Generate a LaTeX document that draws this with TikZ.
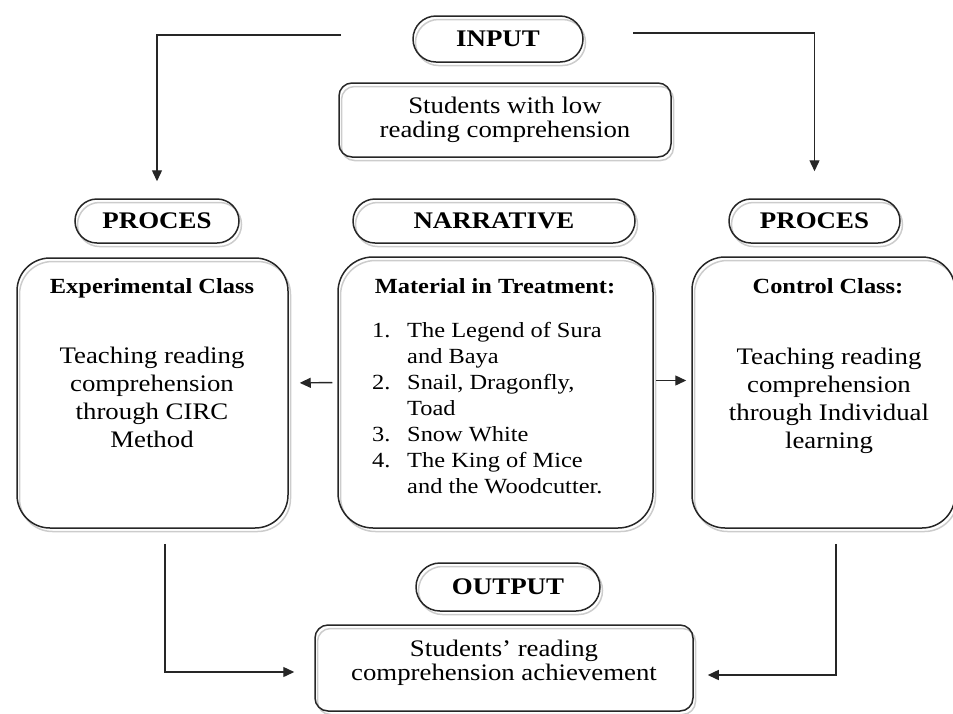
\documentclass[tikz,border=0pt]{standalone}
\usepackage{fontspec}
\setmainfont{Liberation Serif}[FakeStretch=1.13]
\usetikzlibrary{arrows.meta,shapes.misc,shadows,calc}
\newcommand{\mylines}[1]{\begin{tabular}[t]{@{}c@{}}#1\end{tabular}}
\begin{document}
\begin{tikzpicture}[x=1pt,y=-1pt,
  shad/.style={general shadow={draw=black!20, fill=none, line width=1.5pt, shadow xshift=2.5pt, shadow yshift=-3.5pt}},
  box/.style={draw=black!85, line width=1.5pt, rectangle, rounded corners=#1, inner sep=0pt, shad},
  box/.default=13pt,
  pill/.style={draw=black!85, line width=1.5pt, rounded rectangle, inner sep=0pt, shad,
    font=\bfseries\fontsize{23.8}{28}\selectfont},
  body/.style={inner sep=0pt, anchor=base, font=\fontsize{23.7}{28}\selectfont},
  head/.style={inner sep=0pt, anchor=base, font=\bfseries\fontsize{21.6}{26}\selectfont},
  conn/.style={draw=black!85, line width=1.4pt, -{Triangle[length=11pt,width=10pt]}}
]
\useasboundingbox (0,0) rectangle (953,713);

% top
\node[pill, minimum width=170pt, minimum height=46pt] (input) at (498,39) {INPUT};
\node[box, minimum width=332pt, minimum height=74pt, align=center,
  font=\fontsize{23.7}{23.5}\selectfont] (low) at (505,120)
  {Students with low\\reading comprehension};

% pills
\node[pill, minimum width=164pt, minimum height=44pt] (procL) at (157,221) {PROCES};
\node[pill, minimum width=282pt, minimum height=44pt] (narr) at (494,221) {NARRATIVE};
\node[pill, minimum width=171pt, minimum height=44pt] (procR) at (814.5,221) {PROCES};

% big boxes
\node[box=33pt, minimum width=271pt, minimum height=270pt] (exp) at (152.5,393) {};
\node[box=35pt, minimum width=315pt, minimum height=271pt] (mat) at (495.5,392.5) {};
\node[box=33pt, minimum width=263pt, minimum height=271pt] (ctrl) at (823.5,392.5) {};

\node[head] (expT) at (152,293) {Experimental Class};
\node[body] (expB) at (152,363) {\mylines{Teaching reading\\comprehension\\through CIRC\\Method}};

\node[head] (matT) at (495,293) {Material in Treatment:};
\node[inner sep=0pt, anchor=base west, font=\fontsize{21.6}{26}\selectfont] (matL) at (372,337)
  {\begin{tabular}[t]{@{}l@{\hspace{16.7pt}}l@{}}
   1. & The Legend of Sura\\
      & and Baya\\
   2. & Snail, Dragonfly,\\
      & Toad\\
   3. & Snow White\\
   4. & The King of Mice\\
      & and the Woodcutter.
   \end{tabular}};

\node[head] (ctrlT) at (828,293) {Control Class:};
\node[body] (ctrlB) at (829,364) {\mylines{Teaching reading\\comprehension\\through Individual\\learning}};

% output
\node[pill, minimum width=184pt, minimum height=48pt] (outP) at (508,587) {OUTPUT};
\node[box, minimum width=378pt, minimum height=86pt] (out) at (504,668) {};
\node[body, font=\fontsize{23.7}{24}\selectfont] (outT) at (504,656)
  {\mylines{Students’ reading\\comprehension achievement}};

% connectors
\coordinate (inL) at (341,35);
\coordinate (inR) at (633,33);
\draw[conn, shorten >=17pt] (inL) -| (procL.north);
\draw[conn, shorten >=27pt] (inR) -| (procR.north);
\draw[conn, shorten <=5pt, shorten >=11pt] ([yshift=10pt]mat.west) -- ([yshift=10pt]exp.east);
\draw[conn, shorten <=2pt, shorten >=5pt] ([yshift=12pt]mat.east) -- ([yshift=12pt]ctrl.west);
\draw[conn, shorten <=15pt, shorten >=20pt] ([xshift=12.5pt]exp.south) |- ([yshift=-4pt]out.west);
\draw[conn, shorten <=15pt, shorten >=14pt] ([xshift=12.5pt]ctrl.south) |- ([yshift=-7pt]out.east);
\end{tikzpicture}
\end{document}
